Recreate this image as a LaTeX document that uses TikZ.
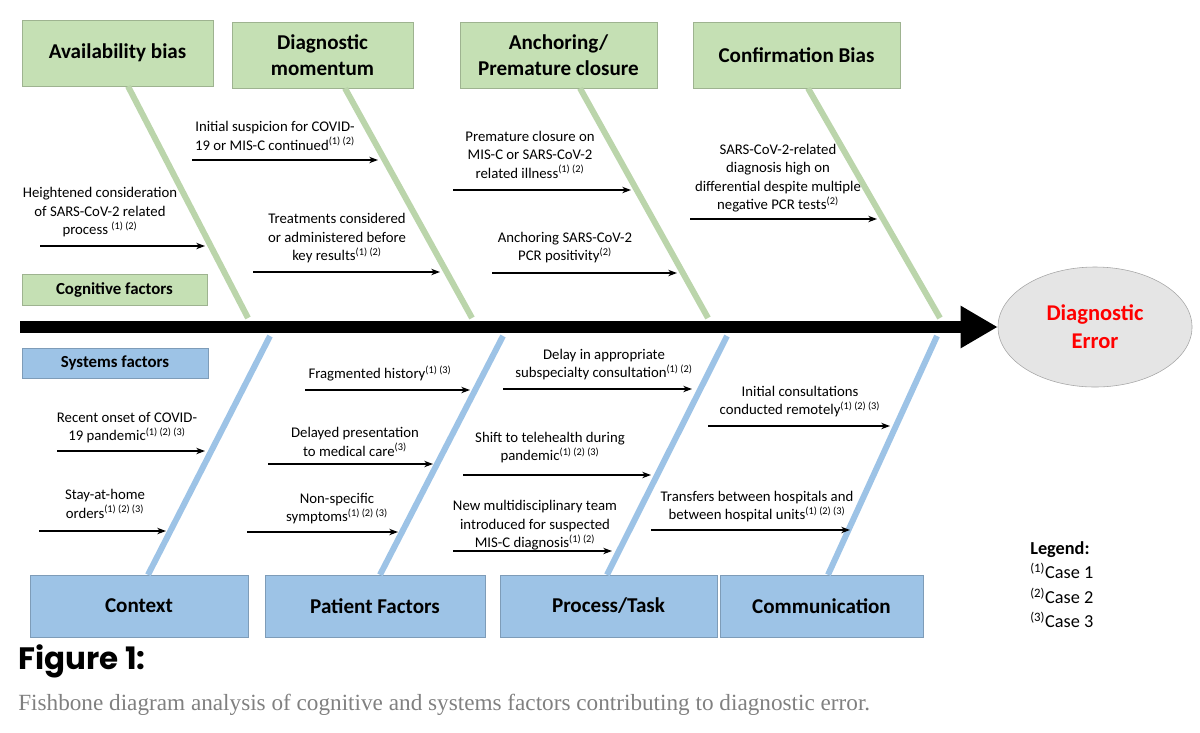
\documentclass[tikz,border=0pt]{standalone}
\usepackage{fontspec}
\setmainfont{Carlito}
\newfontfamily\figfont{Poppins}
\newfontfamily\capfont{Liberation Serif}
\usetikzlibrary{shapes,arrows.meta,positioning}
\definecolor{cogGreen}{HTML}{C5E0B4}
\definecolor{sysBlue}{HTML}{9DC3E6}
\newcommand{\cites}[1]{\textsuperscript{#1}}

\begin{document}
\begin{tikzpicture}[x=0.025cm, y=-0.025cm,
		gbox/.style={rectangle, fill=cogGreen, draw=cogGreen!80!black, line width=0.3pt, minimum height=1.65cm, align=center, font=\fontsize{15}{18.5}\selectfont\bfseries},
		bbox/.style={rectangle, fill=sysBlue, draw=sysBlue!80!black, line width=0.3pt, minimum height=1.55cm, align=center, font=\fontsize{15}{18.5}\selectfont\bfseries},
		tag/.style={rectangle, align=center, font=\fontsize{12}{14}\selectfont\bfseries},
		cause/.style={align=center, anchor=south, inner sep=1pt, font=\fontsize{10.5}{13.2}\selectfont},
		arrow/.style={-{Stealth[length=2.2mm,width=1.6mm]}, line width=0.9pt},
		gbone/.style={cogGreen!95!black, line width=0.15cm},
		bbone/.style={sysBlue, line width=0.15cm}
		]
		\useasboundingbox (0,0) rectangle (1200,732);
		
		% Cognitive side
		\node[gbox, minimum width=4.78cm] (avail) at (117.5,53) {Availability bias};
		\node[gbox, minimum width=4.53cm] (momentum) at (322.5,55) {Diagnostic\\momentum};
		\node[gbox, minimum width=4.93cm] (anchor) at (558.5,55) {Anchoring/\\Premature closure};
		\node[gbox, minimum width=5.18cm] (confirm) at (796.5,55) {Confirmation Bias};
		\node[tag, fill=cogGreen, draw=cogGreen!80!black, minimum width=4.63cm, minimum height=0.78cm] (cog) at (114.5,289.5) {Cognitive factors};
		
		% Systems side
		\node[tag, fill=sysBlue, draw=sysBlue!80!black, minimum width=4.65cm, minimum height=0.75cm] (sys) at (115,363) {Systems factors};
		\node[bbox, minimum width=5.45cm] (context) at (139,606) {Context};
		\node[bbox, minimum width=5.5cm] (patient) at (375,606) {Patient Factors};
		\node[bbox, minimum width=5.43cm] (process) at (608.5,606) {Process/Task};
		\node[bbox, minimum width=5.08cm] (comm) at (821.5,606) {Communication};
		
		% Head
		\node[ellipse, draw=gray!70, fill=gray!20, minimum width=4.85cm, minimum height=3cm, align=center, text=red, font=\fontsize{16}{20}\selectfont\bfseries] (err) at (1095,327) {Diagnostic\\Error};
		\coordinate (tail) at (20,327);
		\draw[line width=0.3cm, -{Triangle[length=0.93cm,width=1cm]}] (tail) -- (err.west);
		
		% Bones
		\draw[gbone] (avail.south -| 128,0) -- (248,318);
		\draw[gbone] (momentum.south -| 345,0) -- (472,318);
		\draw[gbone] (anchor.south -| 580,0) -- (708,318);
		\draw[gbone] (confirm.south -| 808,0) -- (940,318);
		\draw[bbone] (270,336) -- (context.north -| 148,0);
		\draw[bbone] (503,336) -- (patient.north -| 380,0);
		\draw[bbone] (727,336) -- (process.north -| 607,0);
		\draw[bbone] (937,336) -- (comm.north -| 828,0);
		
		% Cognitive causes
		\node[cause] (c1) at (100,239) {Heightened consideration\\of SARS-CoV-2 related\\process \cites{(1) (2)}};
		\draw[arrow] (40,246) -- (205,246);
		\node[cause] (c2) at (275,152) {Initial suspicion for COVID-\\19 or MIS-C continued\cites{(1) (2)}};
		\draw[arrow] (192,160) -- (378,160);
		\node[cause] (c3) at (337,265) {Treatments considered\\or administered before\\key results\cites{(1) (2)}};
		\draw[arrow] (253,272) -- (440,272);
		\node[cause] (c4) at (530,180) {Premature closure on\\MIS-C or SARS-CoV-2\\related illness\cites{(1) (2)}};
		\draw[arrow] (453,190) -- (631,190);
		\node[cause] (c5) at (565,265) {Anchoring SARS-CoV-2\\PCR positivity\cites{(2)}};
		\draw[arrow] (492,273) -- (677,273);
		\node[cause] (c6) at (778,214) {SARS-CoV-2-related\\diagnosis high on\\differential despite multiple\\negative PCR tests\cites{(2)}};
		\draw[arrow] (690,219) -- (877,219);
		
		% Systems causes
		\node[cause] (s1) at (380,383) {Fragmented history\cites{(1) (3)}};
		\draw[arrow] (305,390) -- (470,390);
		\node[cause] (s2) at (127,445) {Recent onset of COVID-\\19 pandemic\cites{(1) (2) (3)}};
		\draw[arrow] (57,451) -- (205,451);
		\node[cause] (s3) at (355,458) {Delayed presentation\\to medical care\cites{(3)}};
		\draw[arrow] (268,464) -- (433,464);
		\node[cause] (s4) at (105,520) {Stay-at-home\\orders\cites{(1) (2) (3)}};
		\draw[arrow] (39,531) -- (166,531);
		\node[cause] (s5) at (337,526) {Non-specific\\symptoms\cites{(1) (2) (3)}};
		\draw[arrow] (247,532) -- (398,532);
		\node[cause] (s6) at (604,382) {Delay in appropriate\\subspecialty consultation\cites{(1) (2)}};
		\draw[arrow] (503,389) -- (692,389);
		\node[cause] (s7) at (550,465) {Shift to telehealth during\\pandemic\cites{(1) (2) (3)}};
		\draw[arrow] (463,475) -- (651,475);
		\node[cause] (s8) at (535,552) {New multidisciplinary team\\introduced for suspected\\MIS-C diagnosis\cites{(1) (2)}};
		\draw[arrow] (453,551) -- (612,551);
		\node[cause] (s9) at (800,419) {Initial consultations\\conducted remotely\cites{(1) (2) (3)}};
		\draw[arrow] (708,426) -- (890,426);
		\node[cause] (s10) at (757,524) {Transfers between hospitals and\\between hospital units\cites{(1) (2) (3)}};
		\draw[arrow] (651,530) -- (850,530);
		
		% Legend
		\node[anchor=north west, align=left, inner sep=0, font=\fontsize{13}{17.5}\selectfont] (legend) at (1030,541) {\textbf{Legend:}\\\cites{(1)}Case 1\\\cites{(2)}Case 2\\\cites{(3)}Case 3};
		
		% Caption
		\node[anchor=west, inner sep=0, font=\figfont\fontsize{22}{26}\selectfont\bfseries] (fig) at (18,661) {Figure 1:};
		\node[anchor=west, inner sep=0, text=gray, font=\capfont\fontsize{16.5}{20}\selectfont] (cap) at (18,705) {Fishbone diagram analysis of cognitive and systems factors contributing to diagnostic error.};
	\end{tikzpicture}
\end{document}
